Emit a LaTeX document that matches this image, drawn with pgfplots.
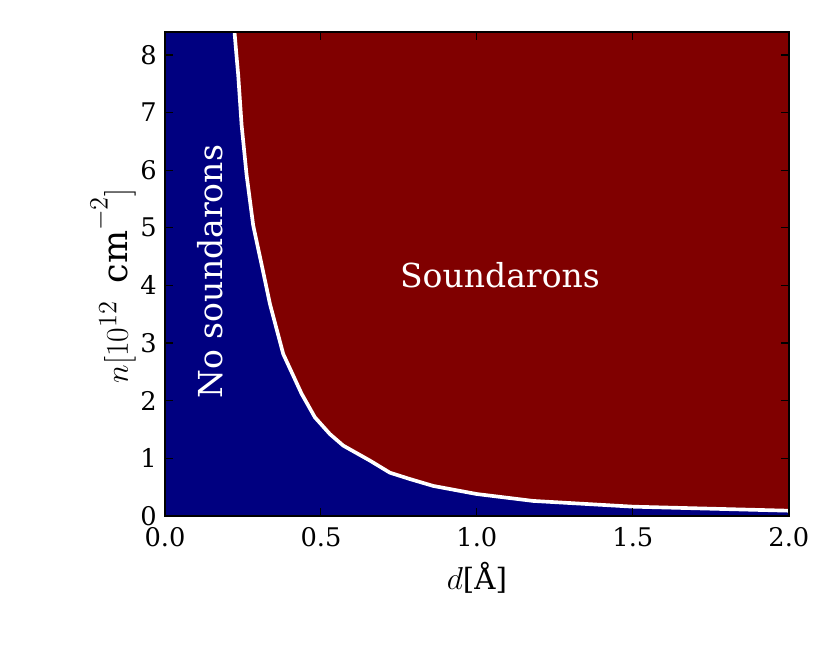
\documentclass[border=0pt]{standalone}
\usepackage{fontspec}
\setmainfont{DejaVu Serif}
\usepackage{pgfplots}
\pgfplotsset{compat=1.18}
\definecolor{jetred}{RGB}{128,0,0}
\definecolor{jetblue}{RGB}{0,0,128}
\begin{document}
\begin{tikzpicture}
\begin{axis}[
    name=ax,
    scale only axis,
    width=340.1pt, height=263.8pt,
    xmin=0, xmax=2, ymin=0, ymax=8.4,
    xtick={0,0.5,1,1.5,2}, ytick={0,1,...,8},
    /pgf/number format/assume math mode=true,
    tick label style={font=\fontsize{14}{16}\selectfont},
    xticklabel style={yshift=-2.5pt, /pgf/number format/fixed, /pgf/number format/fixed zerofill, /pgf/number format/precision=1},
    yticklabel style={xshift=-1pt},
    tick align=inside, major tick length=4.4pt,
    tick style={black, line width=0.6pt},
    axis line style={line width=1.2pt},
    axis background/.style={fill=jetred},
    axis on top=true,
    xlabel={$d$[Å]},
    ylabel={$n[10^{12}\;\;\mathrm{cm}^{-2}]$},
    xlabel style={font=\fontsize{16}{18}\selectfont, at={(axis description cs:0.5,-0.128)}, anchor=center},
    ylabel style={font=\fontsize{19}{21}\selectfont, at={(axis description cs:-0.083,0.475)}, anchor=center},
]
% region without soundarons
\addplot[fill=jetblue, draw=none] coordinates {
    (0,0) (0,8.4) (0.2230,8.4) (0.2300,7.95) (0.2349,7.65) (0.2458,6.78) (0.2619,5.91)
    (0.2830,5.04) (0.3151,4.23) (0.3365,3.68) (0.3792,2.81) (0.4381,2.12)
    (0.4808,1.71) (0.5288,1.42) (0.5715,1.22) (0.657,0.96) (0.721,0.75)
    (0.785,0.64) (0.860,0.52) (0.999,0.38) (1.180,0.26) (1.501,0.16)
    (2.0,0.09) (2,0)
};
% boundary
\addplot[white, line width=2pt] coordinates {
    (0.2230,8.4) (0.2300,7.95) (0.2349,7.65) (0.2458,6.78) (0.2619,5.91)
    (0.2830,5.04) (0.3151,4.23) (0.3365,3.68) (0.3792,2.81) (0.4381,2.12)
    (0.4808,1.71) (0.5288,1.42) (0.5715,1.22) (0.657,0.96) (0.721,0.75)
    (0.785,0.64) (0.860,0.52) (0.999,0.38) (1.180,0.26) (1.501,0.16)
    (2.0,0.09)
};
\node[white, font=\fontsize{18}{20}\selectfont] at (axis cs:1.074,4.17) {Soundarons};
\node[white, rotate=90, font=\fontsize{18}{20}\selectfont] at (axis cs:0.144,4.24) {No soundarons};
\end{axis}
\path (ax.south west) ++(-89.9pt,-70.9pt) rectangle ++(452.4pt,352.1pt);
\end{tikzpicture}
\end{document}
